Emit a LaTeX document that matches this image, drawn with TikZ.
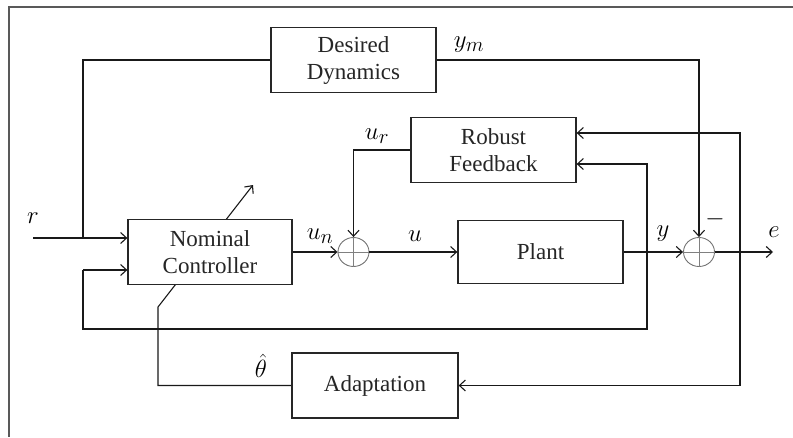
\documentclass[tikz,border=0pt]{standalone}
\usepackage{fix-cm}
\usepackage{fontspec}
\setmainfont{Liberation Serif}
\usetikzlibrary{arrows.meta,calc,backgrounds,shapes.geometric}
\begin{document}
\begin{tikzpicture}[x=1pt,y=-1pt,
  block/.style={draw=black!85,line width=1.3pt,fill=white,minimum width=165pt,
    minimum height=65pt,inner sep=0pt,align=center,font=\fontsize{23}{27}\selectfont,
    text=black!85},
  sumj/.style={ellipse,draw=black!55,line width=0.9pt,minimum width=31pt,
    minimum height=29pt,inner sep=0pt,fill=white},
  wire/.style={line width=1.1pt,draw=black!90},
  arr/.style={wire,-{Straight Barb[length=6pt,width=11pt,line width=1.1pt]}},
  lbl/.style={font=\fontsize{24.88}{26}\selectfont,inner sep=0pt},
  frame/.style={draw=black!65,line width=1.4pt}]
\useasboundingbox (0,0) rectangle (793,437);
% partial frame
\draw[frame] (793,7) -- (9,7) -- (9,437);

% blocks
\node[block] (dd) at (353.5,60) {Desired\\Dynamics};
\node[block] (rf) at (493.5,150) {Robust\\Feedback};
\node[block,minimum width=164pt] (nc) at (210,252) {Nominal\\Controller};
\node[block,minimum height=63pt] (pl) at (540.5,252) {Plant};
\node[block,minimum width=166pt] (ad) at (375,385.5) {Adaptation};

% summing junctions
\node[sumj] (s1) at (353.5,252) {};
\node[sumj] (s2) at (699,252) {};
\foreach \s in {s1,s2}{
  \draw[black!50,line width=0.9pt] (\s.north) -- (\s.south) (\s.west) -- (\s.east);
}

% auxiliary points
\coordinate (rin) at (33,238);
\coordinate (jr) at (83,238);
\coordinate (yb) at (647,252);
\coordinate (ybl) at (647,329);
\coordinate (ybc) at (83,270);
\coordinate (eb) at (740,252);
\coordinate (eout) at (773,252);
\coordinate (thk) at (158,307);
\coordinate (tip) at (253,185);

% adaptation path: the tuning arrow passes behind the controller block
\begin{scope}[on background layer]
  \draw[arr] (ad.west) -| (thk) -- (tip);
\end{scope}

% reference input and model path
\draw[arr] (rin) -- (rin -| nc.west);
\draw[wire] (dd.west) -| (jr);
\draw[arr] (dd.east) -| (s2.north);

% forward path
\draw[arr] (nc.east) -- (s1.west);
\draw[arr] (s1.east) -- (pl.west);
\draw[arr] (pl.east) -- (s2.west);
\draw[arr] (s2.east) -- (eout);

% robust feedback loop
\draw[arr] (rf.west) -| (s1.north);
\draw[arr] (yb) |- ($(rf.east)+(0,14)$);
\draw[arr] (eb) |- ($(rf.east)+(0,-17)$);

% output feedback to controller
\draw[wire] (yb) -- (ybl) -| (ybc);
\draw[arr] (ybc) -- (ybc -| nc.west);

% error to adaptation
\draw[arr] (eb) |- (ad.east);

% signal labels
\node[lbl] (lr) at (33,218) {$r$};
\node[lbl] (lun) at (320,236) {$u_n$};
\node[lbl] (lu) at (415,236) {$u$};
\node[lbl] (ly) at (663,234) {$y$};
\node[lbl] (le) at (774,232) {$e$};
\node[lbl] (lm) at (715,219) {$-$};
\node[lbl] (lym) at (469,45) {$y_m$};
\node[lbl] (lur) at (377,136) {$u_r$};
\node[lbl] (lth) at (261,366) {$\hat\theta$};
\end{tikzpicture}
\end{document}
